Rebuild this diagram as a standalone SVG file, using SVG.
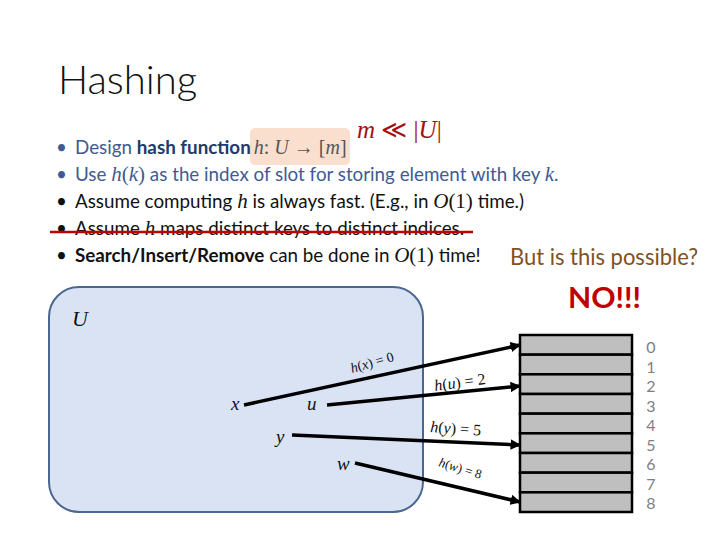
<svg xmlns="http://www.w3.org/2000/svg" width="720" height="540" viewBox="0 0 720 540">
<defs>
<style>
.body{font-family:Lato,"Open Sans","Liberation Sans",sans-serif;font-size:18.8px}
.m{font-family:"Liberation Serif","DejaVu Serif",serif;font-style:italic}
.r{font-family:"Liberation Serif","DejaVu Serif",serif;font-style:normal}
.blue{fill:#3F5B91}
.dblue{fill:#233B6B;font-weight:bold}
.blk{fill:#111}
.lbl{font-family:"Liberation Serif","DejaVu Serif",serif;font-style:italic;fill:#111}
.num{font-family:Lato,"Open Sans","Liberation Sans",sans-serif;font-size:16px;fill:#7F7F7F;text-anchor:middle}
.edge{stroke:#000;stroke-width:3.5;fill:none;marker-end:url(#ah)}
.slot{fill:#BFBFBF;stroke:#000;stroke-width:2.5}
</style>
<marker id="ah" viewBox="0 0 10 10" refX="9" refY="5" markerWidth="3" markerHeight="3" orient="auto" markerUnits="strokeWidth">
<path d="M0,0 L10,5 L0,10 z" fill="#000"/>
</marker>
</defs>
<rect width="720" height="540" fill="#fff"/>
<text x="58" y="94" font-family="Lato,'Open Sans','Liberation Sans',sans-serif" font-size="40" font-weight="300" fill="#111">Hashing</text>

<g id="bullets" class="body">
<rect x="250" y="128" width="100" height="37" rx="5" fill="#FADFCE"/>
<text x="56" y="154" class="blue">•</text>
<text x="75" y="154"><tspan class="blue">Design </tspan><tspan class="dblue">hash function</tspan><tspan class="m" fill="#555" font-size="20" dx="3">h</tspan><tspan class="r" fill="#555" font-size="20">: </tspan><tspan class="m" fill="#555" font-size="20">U</tspan><tspan class="r" fill="#555" font-size="20"> → [</tspan><tspan class="m" fill="#555" font-size="20">m</tspan><tspan class="r" fill="#555" font-size="20">]</tspan></text>
<text x="56" y="181" class="blue">•</text>
<text x="75" y="181" class="blue"><tspan>Use </tspan><tspan class="m" font-size="21">h</tspan><tspan class="r" font-size="21">(</tspan><tspan class="m" font-size="21">k</tspan><tspan class="r" font-size="21">)</tspan><tspan> as the index of slot for storing element with key </tspan><tspan class="m" font-size="21">k</tspan><tspan>.</tspan></text>
<text x="56" y="208" class="blk">•</text>
<text x="75" y="208" class="blk"><tspan>Assume computing </tspan><tspan class="m" font-size="21">h</tspan><tspan> is always fast. (E.g., in </tspan><tspan class="m" font-size="21">O</tspan><tspan class="r" font-size="21">(1)</tspan><tspan> time.)</tspan></text>
<text x="56" y="235" class="blk">•</text>
<text x="75" y="235" class="blk"><tspan>Assume </tspan><tspan class="m" font-size="21">h</tspan><tspan> maps distinct keys to distinct indices.</tspan></text>
<text x="56" y="262" class="blk">•</text>
<text x="75" y="262" class="blk"><tspan font-weight="bold">Search/Insert/Remove</tspan><tspan> can be done in </tspan><tspan class="m" font-size="21">O</tspan><tspan class="r" font-size="21">(1)</tspan><tspan> time!</tspan></text>
<line x1="50" y1="232" x2="473" y2="232" stroke="#C00000" stroke-width="2.5"/>
</g>

<text id="note-m" x="357" y="138" font-family="'Liberation Serif',serif" font-size="25" fill="#A50F0F"><tspan font-style="italic">m</tspan> ≪ |<tspan font-style="italic">U</tspan>|</text>
<text id="question" x="510" y="265" font-family="Lato,'Open Sans','Liberation Sans',sans-serif" font-size="23" fill="#7F5123" textLength="188" lengthAdjust="spacingAndGlyphs">But is this possible?</text>
<text id="no" x="568" y="308" font-family="Lato,'Open Sans','Liberation Sans',sans-serif" font-size="28" font-weight="bold" fill="#C00000" textLength="73" lengthAdjust="spacingAndGlyphs">NO!!!</text>

<g id="universe">
<rect x="49" y="287" width="374" height="225" rx="30" fill="#DAE3F3" stroke="#4A6790" stroke-width="2"/>
<text x="72" y="326" class="lbl" font-size="22">U</text>
</g>
<g id="key-x"><text x="231" y="410" class="lbl" font-size="19">x</text></g>
<g id="key-u"><text x="307" y="410" class="lbl" font-size="19">u</text></g>
<g id="key-y"><text x="276" y="443" class="lbl" font-size="19">y</text></g>
<g id="key-w"><text x="337" y="470" class="lbl" font-size="19">w</text></g>

<g id="table">
<rect class="slot" x="520" y="335" width="112" height="19.67"/>
<rect class="slot" x="520" y="354.67" width="112" height="19.67"/>
<rect class="slot" x="520" y="374.33" width="112" height="19.67"/>
<rect class="slot" x="520" y="394" width="112" height="19.67"/>
<rect class="slot" x="520" y="413.67" width="112" height="19.67"/>
<rect class="slot" x="520" y="433.33" width="112" height="19.67"/>
<rect class="slot" x="520" y="453" width="112" height="19.67"/>
<rect class="slot" x="520" y="472.67" width="112" height="19.67"/>
<rect class="slot" x="520" y="492.33" width="112" height="19.67"/>
<text class="num" x="651" y="353">0</text>
<text class="num" x="651" y="372.5">1</text>
<text class="num" x="651" y="392">2</text>
<text class="num" x="651" y="411.5">3</text>
<text class="num" x="651" y="431">4</text>
<text class="num" x="651" y="450.5">5</text>
<text class="num" x="651" y="470">6</text>
<text class="num" x="651" y="489.5">7</text>
<text class="num" x="651" y="509">8</text>
</g>

<g id="connectors">
<line class="edge" x1="244" y1="405" x2="520" y2="345"/>
<line class="edge" x1="327" y1="405" x2="520" y2="386"/>
<line class="edge" x1="292" y1="435" x2="520" y2="445"/>
<line class="edge" x1="355" y1="463" x2="520" y2="502"/>
<text class="lbl" font-size="14" transform="translate(352,373) rotate(-16)"><tspan>h</tspan><tspan class="r">(</tspan>x<tspan class="r">) = 0</tspan></text>
<text class="lbl" font-size="16" transform="translate(435,391) rotate(-8)"><tspan>h</tspan><tspan class="r">(</tspan>u<tspan class="r">) = 2</tspan></text>
<text class="lbl" font-size="16" transform="translate(430,432) rotate(4)"><tspan>h</tspan><tspan class="r">(</tspan>y<tspan class="r">) = 5</tspan></text>
<text class="lbl" font-size="13" transform="translate(438,466) rotate(17)"><tspan>h</tspan><tspan class="r">(</tspan>w<tspan class="r">) = 8</tspan></text>
</g>
</svg>
